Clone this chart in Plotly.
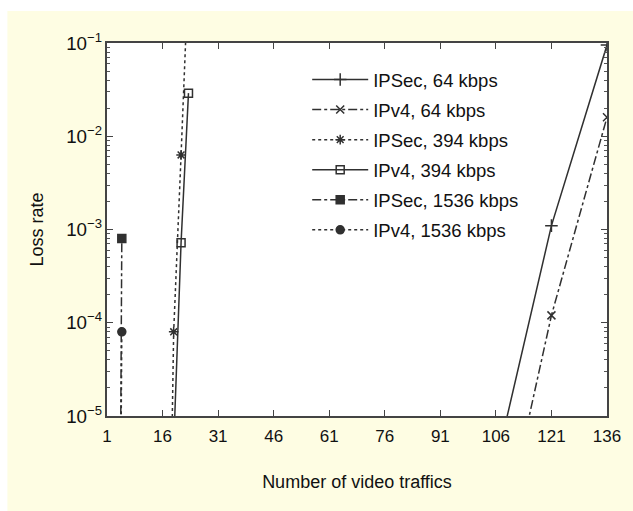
import plotly.graph_objects as go

# ---- data ----
x_ipsec_64 = [106, 121, 136]
y_ipsec_64 = [3e-6, 1.1e-3, 0.095]

x_ipv4_64 = [106, 121, 136]
y_ipv4_64 = [2.4e-7, 1.2e-4, 1.6e-2]

x_ipsec_394 = [17, 19, 21, 23]
y_ipsec_394 = [1e-9, 8e-5, 6.3e-3, 0.6]

x_ipv4_394 = [19, 21, 23]
y_ipv4_394 = [4.7e-6, 7.2e-4, 2.9e-2]

x_ipsec_1536 = [4, 5]
y_ipsec_1536 = [1e-10, 8e-4]

x_ipv4_1536 = [4, 5]
y_ipv4_1536 = [1e-10, 8e-5]

x_ticks = [1, 16, 31, 46, 61, 76, 91, 106, 121, 136]

names = ["IPSec, 64 kbps", "IPv4, 64 kbps", "IPSec, 394 kbps",
         "IPv4, 394 kbps", "IPSec, 1536 kbps", "IPv4, 1536 kbps"]

FONT = "Liberation Sans, Arial, sans-serif"
LINE = "#303030"
CREAM = "#FEFDE3"

series = [
    (x_ipsec_64, y_ipsec_64, "solid", "cross-thin-open", 9),
    (x_ipv4_64, y_ipv4_64, "dashdot", "x-thin-open", 8),
    (x_ipsec_394, y_ipsec_394, "dot", "asterisk-open", 8),
    (x_ipv4_394, y_ipv4_394, "solid", "square-open", 8),
    (x_ipsec_1536, y_ipsec_1536, "dashdot", "square", 8),
    (x_ipv4_1536, y_ipv4_1536, "dot", "circle", 8),
]

fig = go.Figure()
for i, (xs, ys, dash, sym, sz) in enumerate(series):
    fig.add_trace(go.Scatter(
        x=xs, y=ys, name=names[i], mode="lines+markers",
        legendgroup="g%d" % i,
        line=dict(color=LINE, width=1.5, dash=dash),
        marker=dict(symbol=sym, size=sz, color=LINE,
                    line=dict(color=LINE, width=1.5)),
    ))

# page 633x511; body margin removed in post_script so figure fills the page
PW, PH = 633, 511
W, H = PW, PH
# plot area in page pixels: x 107..609, y 43..416
PL, PR, PT, PB = 107, 609, 43, 416
L, T = PL, PT
R, B = PW - PR, PH - PB

def px_x(p):
    return (p - PL) / (PR - PL)

def px_y(p):
    return (PB - p) / (PB - PT)

# white strips on the left and top of the cream page
fig.add_shape(type="rect", xref="paper", yref="paper", layer="below",
              x0=px_x(-5), x1=px_x(7), y0=px_y(PH + 5), y1=px_y(-5),
              fillcolor="white", line=dict(width=0))
fig.add_shape(type="rect", xref="paper", yref="paper", layer="below",
              x0=px_x(-5), x1=px_x(PW + 5), y0=px_y(11), y1=px_y(-5),
              fillcolor="white", line=dict(width=0))

fig.update_layout(
    width=W, height=H,
    margin=dict(l=L, r=R, t=T, b=B, pad=0),
    paper_bgcolor=CREAM,
    plot_bgcolor="white",
    font=dict(family=FONT, size=17, color="#111"),
    showlegend=True,
    legend=dict(
        x=px_x(308), y=px_y(61), xanchor="left", yanchor="top",
        bgcolor="rgba(255,255,255,0)", borderwidth=0,
        font=dict(family=FONT, size=18.5, color="#111"),
        tracegroupgap=3, itemwidth=56,
    ),
    xaxis=dict(
        range=[1, 136], tickvals=x_ticks, ticktext=[str(v) for v in x_ticks],
        ticks="inside", ticklen=6, tickwidth=1.2, tickcolor="#444",
        ticklabelstandoff=4,
        showline=True, linecolor="#444", linewidth=2, mirror="ticks",
        showgrid=False, zeroline=False,
        tickfont=dict(family=FONT, size=17, color="#111"),
        title=dict(text="Number of video traffics", standoff=30,
                   font=dict(family=FONT, size=18, color="#111")),
    ),
    yaxis=dict(
        type="log", range=[-5, -1], dtick=1,
        exponentformat="power", showexponent="all",
        ticks="inside", ticklen=6, tickwidth=1.2, tickcolor="#444",
        minor=dict(ticks="inside", ticklen=3, tickwidth=1, tickcolor="#555",
                   dtick="D1", showgrid=False),
        showline=True, linecolor="#444", linewidth=2, mirror="ticks",
        showgrid=False, zeroline=False,
        tickfont=dict(family=FONT, size=15, color="#111"),
        title=dict(text="Loss rate", standoff=18,
                   font=dict(family=FONT, size=18, color="#111")),
    ),
)

fig.write_html(
    "out.html",
    config={"displayModeBar": False},
    post_script="document.body.style.margin='0';"
                "document.body.style.overflow='hidden';",
)
